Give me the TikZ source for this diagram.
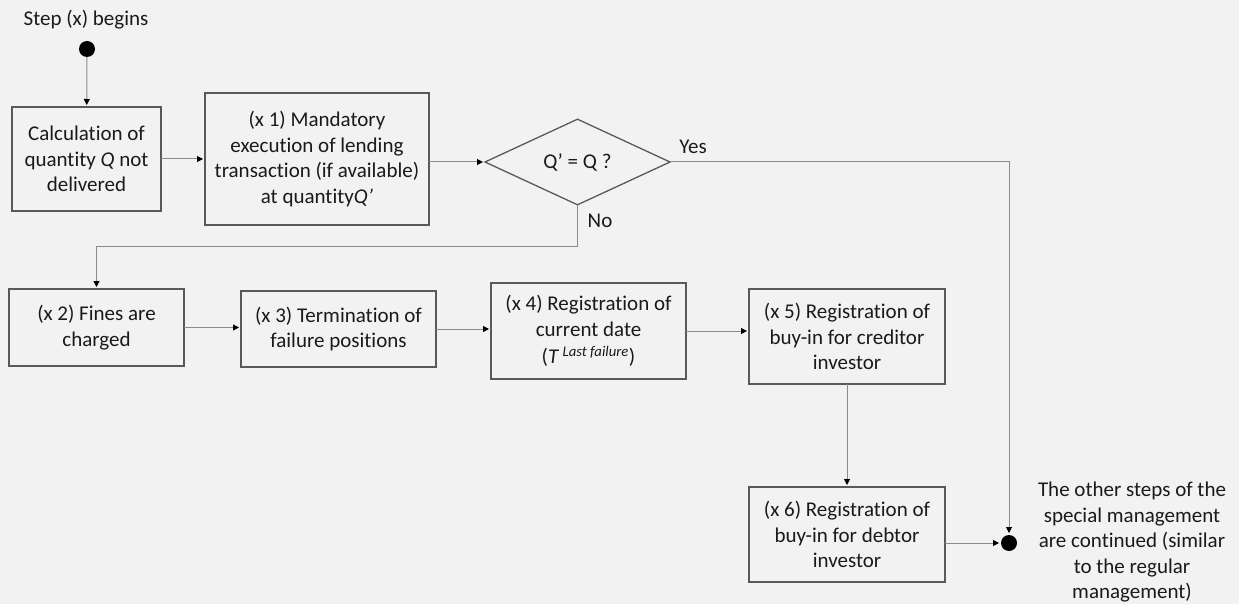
\documentclass[tikz,border=0pt]{standalone}
\usepackage{fontspec}
\setmainfont{Carlito}[Ligatures={NoCommon}]
\usetikzlibrary{arrows.meta,shapes.geometric}
\definecolor{bg}{HTML}{F2F2F2}
\definecolor{boxline}{HTML}{595959}
\definecolor{connc}{HTML}{8C8C8C}
\definecolor{txt}{HTML}{1A1A1A}
\begin{document}
\begin{tikzpicture}[x=1pt,y=-1pt,
  lbl/.style={font=\fontsize{21}{25.5}\selectfont, text=txt, align=center, inner sep=0pt, outer sep=0pt},
  stepbox/.style={lbl, draw=boxline, line width=1.3pt, rectangle},
  decbox/.style={lbl, draw=boxline, line width=1.3pt, diamond},
  conn/.style={draw=connc, line width=1pt, -{Triangle[length=6pt,width=6pt,color=black]}, shorten >=2pt},
  blob/.style={circle, fill=black, minimum size=16pt, inner sep=0pt, outer sep=0pt}]
\fill[bg] (0,0) rectangle (1239,604);
\useasboundingbox (0,0) rectangle (1239,604);

\node[lbl] (title) at (86,20) {Step (x) begins};
\node[blob] (start) at (87,49) {};
\node[stepbox, minimum width=149pt, minimum height=104pt] (b0) at (86.5,159)
  {Calculation of\\quantity \textit{Q} not\\delivered};
\node[stepbox, minimum width=224pt, minimum height=132pt] (b1) at (317,159)
  {(x 1) Mandatory\\execution of lending\\transaction (if available)\\at quantity\textit{Q’}};
\node[decbox, minimum width=185pt, minimum height=84pt] (dec) at (577.5,162) {Q’ = Q ?};
\node[lbl] (yes) at (693,147) {Yes};
\node[lbl] (no) at (600,221) {No};
\coordinate (nocorner) at (577.5,246);

\node[stepbox, minimum width=175pt, minimum height=77pt] (b2) at (96.5,327.5)
  {(x 2) Fines are\\charged};
\node[stepbox, minimum width=195pt, minimum height=76pt] (b3) at (338.5,329)
  {(x 3) Termination of\\failure positions};
\node[stepbox, minimum width=195pt, minimum height=96pt] (b4) at (588.5,331)
  {(x 4) Registration of\\current date\\[2pt](\textit{T}\,\textsuperscript{\textit{Last failure}})};
\node[stepbox, minimum width=196pt, minimum height=95pt] (b5) at (847,336.5)
  {(x 5) Registration of\\buy-in for creditor\\investor};
\node[stepbox, minimum width=196pt, minimum height=95pt] (b6) at (847,534.5)
  {(x 6) Registration of\\buy-in for debtor\\investor};
\node[blob] (end) at (1009,543) {};
\node[lbl] (endtext) at (1132,542.5)
  {The other steps of the\\special management\\are continued (similar\\to the regular\\management)};

\draw[conn] (start) -- (b0);
\draw[conn] (b0) -- (b1);
\draw[conn] (b1.east |- dec.west) -- (dec.west);
\draw[conn] (dec.south) -- (nocorner) -| (b2.north);
\draw[conn] (dec.east) -| (end.north);
\draw[conn] (b2.east) -- (b2.east -| b3.west);
\draw[conn] (b3.east) -- (b3.east -| b4.west);
\draw[conn] (b4.east) -- (b4.east -| b5.west);
\draw[conn] (b5) -- (b6);
\draw[conn] (end.west -| b6.east) -- (end.west);
\end{tikzpicture}
\end{document}
